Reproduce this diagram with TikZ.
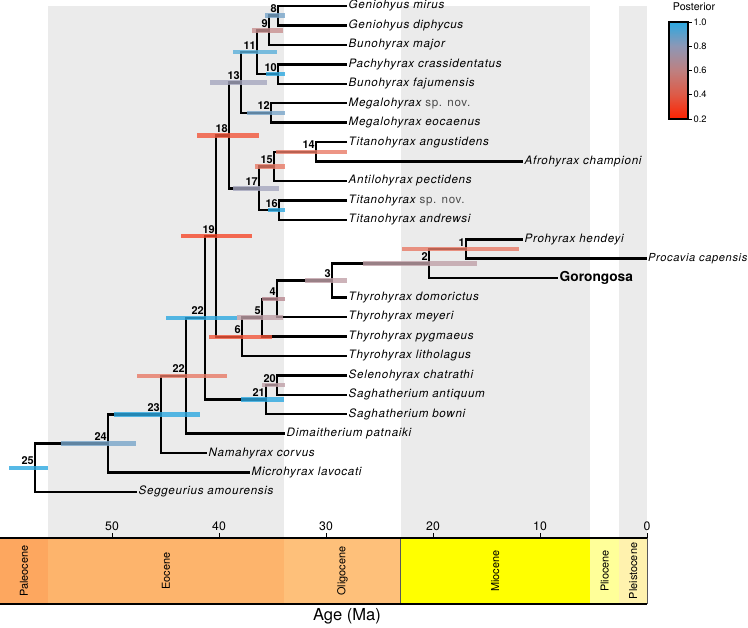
\documentclass[tikz,border=0pt]{standalone}
\usepackage{fontspec}
\setmainfont{TeX Gyre Heros}
\newfontfamily\tipfont{TeX Gyre Heros}[LetterSpace=6]
\usepackage{tikz}
\usetikzlibrary{calc,positioning}
\definecolor{bandg}{HTML}{EBEBEB}
\definecolor{paleoc}{HTML}{FDA75F}
\definecolor{eoc}{HTML}{FDB46C}
\definecolor{oligoc}{HTML}{FEC07A}
\definecolor{mioc}{HTML}{FFFF00}
\definecolor{plioc}{HTML}{FFFF99}
\definecolor{pleistoc}{HTML}{FFF2AE}
\definecolor{pten}{HTML}{2CA8E0}
\definecolor{pnine}{HTML}{5AB0DA}
\definecolor{psteel}{HTML}{78A6CA}
\definecolor{peight}{HTML}{A6A7BE}
\definecolor{pmauve}{HTML}{C0A0A8}
\definecolor{prose}{HTML}{B88890}
\definecolor{pbrown}{HTML}{C89090}
\definecolor{psalm}{HTML}{E87A66}
\definecolor{pred}{HTML}{F2553A}
\definecolor{pfire}{HTML}{F5482A}
\definecolor{gbeight}{HTML}{8E97B5}
\definecolor{gbsix}{HTML}{BE8080}
\definecolor{gbfour}{HTML}{DE5A46}
\definecolor{gbtwo}{HTML}{FF2200}
\newcommand{\spnov}{{\upshape\color{black!70}sp. nov.}}
\tikzset{
  br/.style={line width=1.9pt,black},
  hpd/.style={line width=3.4pt,draw opacity=0.8},
  tip/.style={anchor=west,inner xsep=1.1pt,inner ysep=0pt,text height=6.2pt,text depth=1.8pt,font=\tipfont\itshape\fontsize{8.7}{10}\selectfont},
  nlab/.style={anchor=south east,inner sep=0.8pt,yshift=1.2pt,font=\bfseries\fontsize{8.2}{9}\selectfont},
  eplab/.style={rotate=90,font=\fontsize{8.2}{9}\selectfont},
  axlab/.style={anchor=south,inner sep=1pt,font=\fontsize{9.2}{10}\selectfont}
}
\begin{document}
\begin{tikzpicture}[x=0.75pt,y=-0.75pt]
\useasboundingbox (0,0) rectangle (748,627);
\fill[bandg] (47.8,6) rectangle (284.3,538);
\fill[bandg] (400.6,6) rectangle (589.9,538);
\fill[bandg] (619.4,6) rectangle (647,538);

% tips
\node[tip] (gmir) at (347,6) {Geniohyus mirus};
\node[tip] (gdip) at (347,25.4) {Geniohyus diphycus};
\node[tip] (bmaj) at (347,44.9) {Bunohyrax major};
\node[tip] (pcra) at (347,64.3) {Pachyhyrax crassidentatus};
\node[tip] (bfaj) at (347,83.8) {Bunohyrax fajumensis};
\node[tip] (msp) at (347,103.2) {Megalohyrax \spnov};
\node[tip] (meoc) at (347,122.6) {Megalohyrax eocaenus};
\node[tip] (tang) at (347,142.1) {Titanohyrax angustidens};
\node[tip] (acha) at (523,161.5) {Afrohyrax championi};
\node[tip] (apec) at (347,181.0) {Antilohyrax pectidens};
\node[tip] (tsp) at (347,200.4) {Titanohyrax \spnov};
\node[tip] (tand) at (347,219.8) {Titanohyrax andrewsi};
\node[tip] (phen) at (523,239.3) {Prohyrax hendeyi};
\node[tip,inner xsep=0.6pt,font=\tipfont\itshape\fontsize{8.3}{10}\selectfont] (pcap) at (647,258.7) {Procavia capensis};
\node[tip,font=\bfseries\fontsize{10.3}{12}\selectfont] (goro) at (558,278.2) {Gorongosa};
\node[tip] (tdom) at (347,297.6) {Thyrohyrax domorictus};
\node[tip] (tmey) at (347,317.0) {Thyrohyrax meyeri};
\node[tip] (tpyg) at (347,336.5) {Thyrohyrax pygmaeus};
\node[tip] (tlit) at (347,355.9) {Thyrohyrax litholagus};
\node[tip] (scha) at (347,375.4) {Selenohyrax chatrathi};
\node[tip] (sant) at (347,394.8) {Saghatherium antiquum};
\node[tip] (sbow) at (347,414.2) {Saghatherium bowni};
\node[tip] (dpat) at (285,433.7) {Dimaitherium patnaiki};
\node[tip] (ncor) at (207,453.1) {Namahyrax corvus};
\node[tip] (mlav) at (250,472.6) {Microhyrax lavocati};
\node[tip] (samo) at (137,492.0) {Seggeurius amourensis};

% internal nodes
\coordinate (n1) at (466,249.0);
\coordinate (n2) at (429,263.6);
\coordinate (n3) at (332,280.6);
\coordinate (n4) at (277,298.8);
\coordinate (n5) at (262,317.7);
\coordinate (n6) at (242,336.8);
\coordinate (n8) at (278,15.7);
\coordinate (n9) at (269,30.3);
\coordinate (n10) at (278,74.1);
\coordinate (n11) at (257,52.2);
\coordinate (n12) at (271,112.9);
\coordinate (n13) at (241,82.6);
\coordinate (n14) at (316,151.8);
\coordinate (n15) at (274,166.4);
\coordinate (n16) at (279,210.1);
\coordinate (n17) at (259,188.3);
\coordinate (n18) at (229,135.4);
\coordinate (n19) at (216,236.1);
\coordinate (n20) at (277,385.1);
\coordinate (n21) at (266,399.7);
\coordinate (n22) at (205,317.9);
\coordinate (n22b) at (186,375.8);
\coordinate (n23) at (161,414.5);
\coordinate (n24) at (108,443.5);
\coordinate (n25) at (35,467.8);

\foreach \p/\a/\b in {n8/gmir.west/gdip.west, n9/n8/bmaj.west, n10/pcra.west/bfaj.west,
  n11/n9/n10, n12/msp.west/meoc.west, n13/n11/n12, n14/tang.west/acha.west,
  n15/n14/apec.west, n16/tsp.west/tand.west, n17/n15/n16, n18/n13/n17,
  n1/phen.west/pcap.west, n2/n1/goro.west, n3/n2/tdom.west, n4/n3/tmey.west,
  n5/n4/tpyg.west, n6/n5/tlit.west, n19/n18/n6, n20/scha.west/sant.west,
  n21/n20/sbow.west, n22/n19/n21, n22b/n22/dpat.west, n23/n22b/ncor.west,
  n24/n23/mlav.west, n25/n24/samo.west}
  \draw[br] (\a) -| (\p) |- (\b);

% node ages
\foreach \n/\t/\x/\y/\c in {1/1/402/519/psalm, 2/2/363/477/pmauve, 3/3/305/347/pmauve,
  4/4/262/285/prose, 5/5/237/283/pmauve, 6/6/209/272/pred, 8/8/265/285/psteel,
  9/9/252/283/pbrown, 10/10/266/285/pten, 11/11/233/277/pnine, 12/12/247/285/psteel,
  13/13/210/267/peight, 14/14/276/347/psalm, 15/15/255/285/psalm, 16/16/268/285/pten,
  17/17/233/279/peight, 18/18/197/259/pred, 19/19/181/252/pfire, 20/20/262/285/pmauve,
  21/21/241/284/pten, 22/22/166/237/pten, 22b/22/137/227/psalm, 23/23/114/200/pten,
  24/24/61/136/psteel, 25/25/9/48/pten}{
  \draw[hpd,\c] (\x,0 |- n\n) -- (\y,0 |- n\n);
  \node[nlab] (l\n) at (n\n) {\t};
}

% legend
\node[font=\fontsize{8}{9}\selectfont] (ptitle) at (694,7) {Posterior};
\foreach \lo/\hi/\ya/\yb in {gbtwo/gbfour/119/94.75, gbfour/gbsix/94.75/70.5, gbsix/gbeight/70.5/46.25, gbeight/pten/46.25/22}
  \shade[bottom color=\lo,top color=\hi] (669,\ya) rectangle (688,\yb);
\draw[thick] (669,22) rectangle (688,119);
\foreach \v/\y in {1.0/22, 0.8/46.25, 0.6/70.5, 0.4/94.75, 0.2/119}{
  \draw (688,\y) -- (692,\y);
  \node[anchor=west,inner sep=1pt,font=\fontsize{7}{8}\selectfont] (pv\v) at (692,\y) {\v};
}

% time scale
\foreach \a/\b/\c/\t in {0/47.8/paleoc/Paleocene, 47.8/284.3/eoc/Eocene, 284.3/400.6/oligoc/Oligocene,
  400.6/589.9/mioc/Miocene, 589.9/619.4/plioc/Pliocene, 619.4/647/pleistoc/Pleistocene}{
  \fill[\c] (\a,538) rectangle (\b,604);
  \draw[black!65] (\b,538) -- (\b,604);
  \node[eplab] (e\t) at ({(\a+\b)/2},571) {\t};
}
\draw[line width=0.9pt] (0,538) -- (647,538) (0,604) -- (647,604);
\foreach \t in {0,10,...,50}{
  \draw ({647-10.7*\t},533) -- ({647-10.7*\t},538);
  \node[axlab] (tk\t) at ({647-10.7*\t},532) {\t};
}
\node[font=\fontsize{12.4}{14}\selectfont] (agelab) at (347,616) {Age (Ma)};
\end{tikzpicture}
\end{document}
